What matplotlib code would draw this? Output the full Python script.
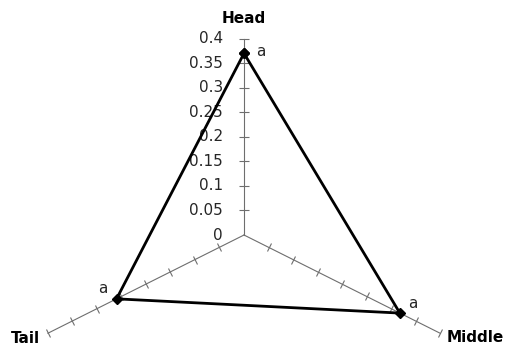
import numpy as np
import matplotlib
matplotlib.use('Agg')
import matplotlib.pyplot as plt
from matplotlib.markers import MarkerStyle
from matplotlib.transforms import Affine2D

plt.rcParams['font.family'] = 'DejaVu Sans'

categories = ['Head', 'Middle', 'Tail']
values = [0.37, 0.318, 0.26]
point_labels = ['a', 'a', 'a']
tick_values = [0, 0.05, 0.1, 0.15, 0.2, 0.25, 0.3, 0.35, 0.4]
tick_labels = ['0', '0.05', '0.1', '0.15', '0.2', '0.25', '0.3', '0.35', '0.4']
r_max = 0.4

# axis directions: Head up, Middle lower right, Tail lower left
angles = np.deg2rad([90, -30, 210])

fig = plt.figure(figsize=(5.06, 3.45), dpi=100)
ax = fig.add_axes([0, 0, 1, 1])
ax.set_xlim(-0.4311, 0.4629)
ax.set_ylim(-0.2240, 0.4786)
ax.axis('off')

# pixels per data unit, used to turn axis directions into screen angles
sx = 506 / (0.4629 + 0.4311)
sy = 345 / (0.4786 + 0.2240)

grey = '#6e6e6e'
for ang in angles:
    ax.plot([0, r_max * np.cos(ang)], [0, r_max * np.sin(ang)], color=grey, lw=0.8, zorder=1)
    phi = np.degrees(np.arctan2(np.sin(ang) * sy, np.cos(ang) * sx))
    m = MarkerStyle('|', transform=Affine2D().rotate_deg(phi))
    t = np.array(tick_values[1:])
    ax.plot(t * np.cos(ang), t * np.sin(ang), ls='none', marker=m, ms=7.2,
            mec=grey, mew=0.8, zorder=1)

# value labels along Head axis
for tv, tl in zip(tick_values, tick_labels):
    ax.annotate(tl, (0, tv), xytext=(-21, 0), textcoords='offset pixels',
                ha='right', va='center', fontsize=11, color='#262626')

# series
xs = [v * np.cos(a) for v, a in zip(values, angles)]
ys = [v * np.sin(a) for v, a in zip(values, angles)]
ax.plot(xs + xs[:1], ys + ys[:1], color='black', lw=2.0, marker='D', ms=5,
        zorder=3, solid_joinstyle='miter')

label_offsets = [(17, 2), (13, 10), (-14, 10)]
for x, y, lab, off in zip(xs, ys, point_labels, label_offsets):
    ax.annotate(lab, (x, y), xytext=off, textcoords='offset pixels',
                ha='center', va='center', fontsize=11, color='#262626')

# category names at the axis ends
cat_offsets = [(0, 20), (7, -4), (-8, -5)]
cat_ha = ['center', 'left', 'right']
for cat, ang, off, ha in zip(categories, angles, cat_offsets, cat_ha):
    ax.annotate(cat, (r_max * np.cos(ang), r_max * np.sin(ang)), xytext=off,
                textcoords='offset pixels', ha=ha, va='center',
                fontsize=11, fontweight='bold', color='black')

fig.savefig('out.png', dpi=100)
